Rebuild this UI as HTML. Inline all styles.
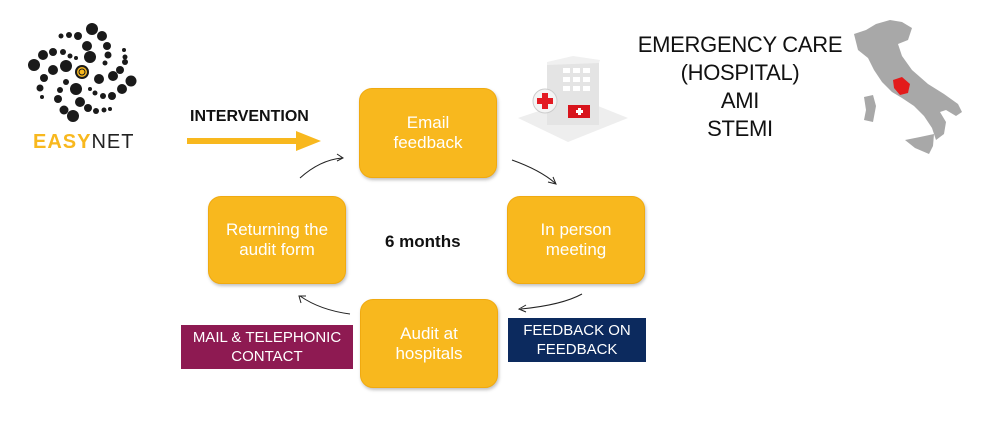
<!DOCTYPE html>
<html><head><meta charset="utf-8"><style>
body{margin:0;width:981px;height:447px;background:#fff;overflow:hidden;position:relative;font-family:"Liberation Sans",Arial,sans-serif}
.b{position:absolute;background:#F8B81E;border:1.5px solid #F0AA10;border-radius:13px;color:#fff;font-size:17px;line-height:20px;text-align:center;display:flex;align-items:center;justify-content:center;box-shadow:1px 2px 3px rgba(0,0,0,.25);box-sizing:border-box}
.t{position:absolute;color:#fff;font-size:15px;line-height:19px;text-align:center;display:flex;align-items:center;justify-content:center}
</style></head><body>
<svg width="981" height="447" style="position:absolute;left:0;top:0">
<g fill="#1a1a1a">
<circle cx="92" cy="29" r="6"/><circle cx="102" cy="36" r="5"/><circle cx="78" cy="36" r="4"/><circle cx="69" cy="35" r="3"/><circle cx="61" cy="36" r="2.5"/>
<circle cx="87" cy="46" r="5"/><circle cx="107" cy="46" r="4"/><circle cx="90" cy="57" r="6"/><circle cx="108" cy="55" r="3.5"/><circle cx="105" cy="63" r="2.5"/>
<circle cx="43" cy="55" r="5"/><circle cx="53" cy="52" r="4"/><circle cx="63" cy="52" r="3"/><circle cx="70" cy="56" r="2.5"/><circle cx="76" cy="58" r="2"/>
<circle cx="34" cy="65" r="6"/><circle cx="53" cy="70" r="5"/><circle cx="66" cy="66" r="6"/><circle cx="44" cy="78" r="4"/><circle cx="40" cy="88" r="3.5"/><circle cx="42" cy="97" r="2"/>
<circle cx="124" cy="50" r="2"/><circle cx="125" cy="57" r="2.5"/><circle cx="125" cy="62" r="3"/><circle cx="120" cy="70" r="4"/><circle cx="113" cy="76" r="5"/><circle cx="131" cy="81" r="5.5"/><circle cx="122" cy="89" r="5"/><circle cx="112" cy="96" r="4"/><circle cx="103" cy="96" r="3"/><circle cx="95" cy="93" r="2.5"/><circle cx="90" cy="89" r="2"/>
<circle cx="99" cy="79" r="5"/><circle cx="76" cy="89" r="6"/><circle cx="66" cy="82" r="3"/><circle cx="60" cy="90" r="3"/><circle cx="58" cy="99" r="4"/><circle cx="64" cy="110" r="4.5"/><circle cx="73" cy="116" r="6"/><circle cx="80" cy="102" r="5"/><circle cx="88" cy="108" r="4"/><circle cx="96" cy="111" r="3"/><circle cx="104" cy="110" r="2.5"/><circle cx="110" cy="109" r="2"/>
<circle cx="82" cy="72" r="7"/></g>
<circle cx="82" cy="72" r="5" fill="#F8B81E"/><circle cx="82" cy="72" r="3" fill="none" stroke="#1a1a1a" stroke-width="1"/>
<rect x="187" y="138" width="110" height="6" fill="#F8B81E"/><polygon points="296,131 321,141 296,151" fill="#F8B81E"/>
<polygon points="518,118 578,98 628,118 568,142" fill="#eee"/>
<rect x="547" y="62" width="52" height="63" fill="#e4e4e4"/><polygon points="547,62 573,56 600,60 599,63 547,65" fill="#f0f0f0"/>
<g fill="#fff"><rect x="563" y="68" width="7" height="5"/><rect x="573" y="68" width="7" height="5"/><rect x="583" y="68" width="7" height="5"/><rect x="563" y="77" width="7" height="5"/><rect x="573" y="77" width="7" height="5"/><rect x="583" y="77" width="7" height="5"/><rect x="563" y="86" width="7" height="5"/><rect x="573" y="86" width="7" height="5"/><rect x="583" y="86" width="7" height="5"/></g>
<circle cx="545" cy="101" r="12" fill="#f4f4f4" stroke="#ccc"/><rect x="542" y="93" width="6" height="16" fill="#e31b23"/><rect x="537" y="98" width="16" height="6" fill="#e31b23"/>
<rect x="568" y="105" width="22" height="13" fill="#d8141c"/><rect x="578" y="108" width="3" height="7" fill="#fff"/><rect x="576" y="110" width="7" height="3" fill="#fff"/>
<!-- italy -->
<path d="M854 34 L866 30 L876 24 L890 20 L902 22 L912 28 L908 40 L898 44 L902 56 L912 70 L928 84 L944 94 L958 104 L962 112 L956 116 L946 110 L940 112 L946 122 L944 134 L936 140 L932 128 L924 116 L914 106 L902 98 L892 92 L882 82 L874 70 L868 58 L858 50 Z" fill="#a8a8a8"/>
<path d="M864 97 L873 95 L876 106 L873 122 L864 120 L866 110 Z" fill="#a8a8a8"/>
<path d="M905 140 L920 137 L934 134 L933 146 L929 154 L915 148 Z" fill="#a8a8a8"/>
<path d="M893 80 L902 77 L910 84 L908 93 L900 95 L894 88 Z" fill="#e31b1b"/>
<g fill="none" stroke="#222" stroke-width="1"><path d="M300 178 Q320 160 342 158"/><path d="M337 154 L343 158 L337 161"/>
<path d="M512 160 Q540 170 555 183"/><path d="M548 182 L556 184 L553 177"/>
<path d="M582 294 Q562 305 521 309"/><path d="M526 305 L519 309 L526 312"/>
<path d="M350 314 Q320 310 300 296"/><path d="M301 303 L299 296 L306 296"/></g>
</svg>
<div style="position:absolute;left:33px;top:131px;font-size:20px;letter-spacing:1px;font-weight:bold"><span style="color:#F8B81E">EASY</span><span style="color:#222;font-weight:normal">NET</span></div>
<div style="position:absolute;left:190px;top:108px;font-size:16px;font-weight:bold;color:#111">INTERVENTION</div>
<div style="position:absolute;left:620px;top:31px;width:240px;text-align:center;font-size:22px;line-height:28px;color:#111;letter-spacing:-0.3px">EMERGENCY CARE<br>(HOSPITAL)<br>AMI<br>STEMI</div>
<div class="b" style="left:359px;top:88px;width:138px;height:90px">Email<br>feedback</div>
<div class="b" style="left:507px;top:196px;width:138px;height:88px">In person<br>meeting</div>
<div class="b" style="left:208px;top:196px;width:138px;height:88px">Returning the<br>audit form</div>
<div class="b" style="left:360px;top:299px;width:138px;height:89px">Audit at<br>hospitals</div>
<div style="position:absolute;left:385px;top:232px;font-size:17px;font-weight:bold;color:#111">6 months</div>
<div class="t" style="left:181px;top:325px;width:172px;height:44px;background:#8E1A52">MAIL &amp; TELEPHONIC<br>CONTACT</div>
<div class="t" style="left:508px;top:318px;width:138px;height:44px;background:#0C2A5E">FEEDBACK ON<br>FEEDBACK</div>
</body></html>
